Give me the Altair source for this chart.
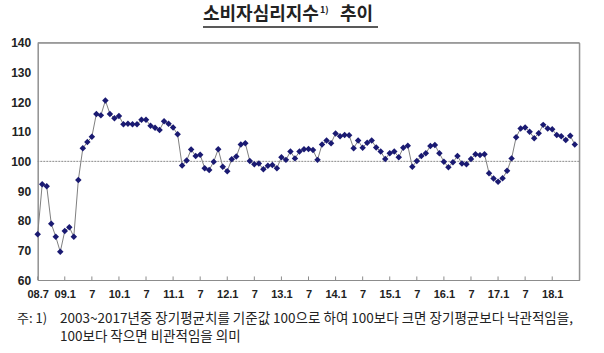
import altair as alt
import pandas as pd

# Monthly consumer sentiment index, 2008.7 - 2018.6
csi_2008 = [75.4, 92.3, 91.6, 79.0, 74.6, 69.5]
csi_2009 = [76.5, 77.8, 74.6, 93.7, 104.4, 106.5, 108.3, 116.0, 115.5, 120.5, 116.0, 114.5]
csi_2010 = [115.3, 112.5, 112.7, 112.5, 112.5, 114.0, 114.0, 112.0, 111.3, 110.6, 113.5, 112.7]
csi_2011 = [111.4, 109.1, 98.6, 100.3, 104.0, 101.8, 102.2, 97.7, 97.1, 99.9, 104.1, 98.2]
csi_2012 = [96.7, 100.7, 101.6, 105.7, 106.1, 100.1, 99.0, 99.3, 97.3, 98.5, 98.8, 97.7]
csi_2013 = [101.4, 100.5, 103.3, 101.0, 103.3, 104.1, 104.2, 103.8, 100.5, 105.7, 107.0, 106.1]
csi_2014 = [109.4, 108.5, 108.9, 108.8, 104.4, 107.0, 104.6, 106.3, 107.0, 104.7, 103.3, 100.8]
csi_2015 = [102.7, 103.3, 101.4, 104.6, 105.3, 98.2, 100.1, 101.8, 102.7, 105.2, 105.5, 102.7]
csi_2016 = [99.9, 98.0, 99.7, 101.8, 99.3, 99.0, 100.8, 102.4, 102.1, 102.4, 96.0, 94.2]
csi_2017 = [93.1, 94.3, 96.8, 101.0, 108.1, 111.1, 111.4, 110.0, 107.8, 109.5, 112.3, 111.1]
csi_2018 = [110.8, 108.9, 108.5, 107.2, 108.6, 105.7]

tick_labels = ["08.7", "09.1", "7", "10.1", "7", "11.1", "7", "12.1", "7", "13.1",
               "7", "14.1", "7", "15.1", "7", "16.1", "7", "17.1", "7", "18.1"]
y_ticks = [60, 70, 80, 90, 100, 110, 120, 130, 140]

title_main = "소비자심리지수"
title_sup = "1)"
title_tail = "추이"
note_head = "주: 1)"
note_line1 = "2003~2017년중 장기평균치를 기준값 100으로 하여 100보다 크면 장기평균보다 낙관적임을,"
note_line2 = "100보다 작으면 비관적임을 의미"

values = csi_2008 + csi_2009 + csi_2010 + csi_2011 + csi_2012 + csi_2013 + csi_2014 + csi_2015 + csi_2016 + csi_2017 + csi_2018
df = pd.DataFrame({"i": list(range(len(values))), "v": values})
tick_pos = [6 * k for k in range(len(tick_labels))]
ticks_df = pd.DataFrame({"i": tick_pos, "v": [60] * len(tick_pos), "v2": [61.2] * len(tick_pos)})

W, H = 541.6, 237.3
label_js = "[" + ",".join("'%s'" % t for t in tick_labels) + "]"

xs = alt.Scale(domain=[0, 120], nice=False, zero=False)
ys = alt.Scale(domain=[60, 140], nice=False, zero=False)

x_axis = alt.Axis(values=tick_pos, labelExpr=label_js + "[round(datum.value/6)]",
                  ticks=False, grid=False, domainColor="#8c8c8c", labelPadding=8,
                  labelFont="Liberation Sans", labelFontWeight="bold", labelFontSize=11,
                  labelColor="#222222", title=None, labelFlush=False, labelOverlap=False)
y_axis = alt.Axis(values=y_ticks, ticks=False, grid=False, domainColor="#8c8c8c", labelPadding=7,
                  labelFont="Liberation Sans", labelFontWeight="bold", labelFontSize=12,
                  labelColor="#222222", title=None, labelOverlap=False)

X = alt.X("i:Q", scale=xs, axis=x_axis, title=None)
Y = alt.Y("v:Q", scale=ys, axis=y_axis, title=None)

base = alt.Chart(df)
line = base.mark_line(color="#808080", strokeWidth=1).encode(x=X, y=Y)
pts = base.mark_point(shape="diamond", filled=True, size=42, color="#1a1a72", opacity=1).encode(x=X, y=Y)

ref = alt.Chart(pd.DataFrame({"v": [100]})).mark_rule(
    color="#8a8a8a", strokeDash=[2, 1], strokeWidth=1).encode(y=Y)
top = alt.Chart(pd.DataFrame({"v": [140]})).mark_rule(color="#8c8c8c", strokeWidth=1).encode(y=Y)
right = alt.Chart(pd.DataFrame({"i": [120]})).mark_rule(color="#8c8c8c", strokeWidth=1).encode(x=X)
xticks = alt.Chart(ticks_df).mark_rule(color="#8c8c8c", strokeWidth=1).encode(x=X, y=Y, y2="v2:Q")

one = pd.DataFrame({"a": [0]})
def txt(s, x, y, size, weight="normal", align="left", font="Noto Sans CJK KR"):
    return alt.Chart(one).mark_text(text=s, align=align, baseline="middle", fontSize=size,
                                    fontWeight=weight, font=font, color="#222222").encode(
        x=alt.value(x), y=alt.value(y))

t1 = txt(title_main, 203 - 37.7, 15 - 42.7, 18, "bold")
t2 = txt(title_sup, 320 - 37.7, 10 - 42.7, 9, "bold")
t3 = txt(title_tail, 340 - 37.7, 15 - 42.7, 18, "bold")
underline = alt.Chart(one).mark_rule(color="#222222", strokeWidth=1.3).encode(
    x=alt.value(203 - 37.7), x2=alt.value(378 - 37.7), y=alt.value(27 - 42.7))
n0 = txt(note_head, 17 - 37.7, 319 - 42.7, 13)
n1 = txt(note_line1, 60 - 37.7, 319 - 42.7, 13.5)
n2 = txt(note_line2, 60 - 37.7, 337 - 42.7, 13.5)

chart = alt.layer(line, ref, top, right, xticks, pts, t1, t2, t3, underline, n0, n1, n2).properties(
    width=W, height=H,
    autosize=alt.AutoSizeParams(type="none"),
    padding={"left": 37.7, "top": 42.7, "right": 24.7, "bottom": 73},
    background="white",
).configure_view(stroke="#8c8c8c", strokeWidth=1)

chart.save("out.html", embed_options={"renderer": "svg", "actions": False})
